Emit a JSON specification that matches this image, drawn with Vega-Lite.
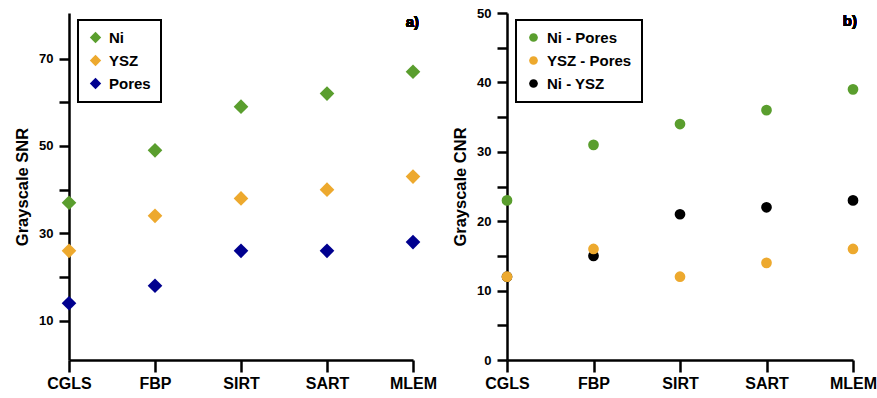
{
  "$schema": "https://vega.github.io/schema/vega-lite/v6.json",
  "background": "white",
  "padding": {"left": 14, "top": 7, "right": 5, "bottom": 5},
  "config": {
    "font": "Liberation Sans",
    "view": {"stroke": null},
    "axis": {
      "domainColor": "black", "domainWidth": 2.5,
      "labelColor": "black", "labelFont": "Liberation Sans", "labelFontWeight": "bold",
      "titleColor": "black", "titleFont": "Liberation Sans", "titleFontWeight": "bold",
      "grid": false
    },
    "legend": {
      "labelFont": "Liberation Sans", "labelFontWeight": "bold", "labelFontSize": 15, "labelColor": "black",
      "strokeColor": "black", "strokeWidth": 2, "padding": 10, "rowPadding": 7, "cornerRadius": 0,
      "symbolStrokeWidth": 0, "labelOffset": 6
    }
  },
  "resolve": {"scale": {"color": "independent"}, "legend": {"color": "independent"}},
  "spacing": 15,
  "hconcat": [
    {
      "width": 344, "height": 347,
      "resolve": {"axis": {"x": "independent", "y": "independent"}},
      "data": {"values": [
        {"method": "CGLS", "phase": "Ni", "snr": 37},
        {"method": "FBP", "phase": "Ni", "snr": 49},
        {"method": "SIRT", "phase": "Ni", "snr": 59},
        {"method": "SART", "phase": "Ni", "snr": 62},
        {"method": "MLEM", "phase": "Ni", "snr": 67},
        {"method": "CGLS", "phase": "YSZ", "snr": 26},
        {"method": "FBP", "phase": "YSZ", "snr": 34},
        {"method": "SIRT", "phase": "YSZ", "snr": 38},
        {"method": "SART", "phase": "YSZ", "snr": 40},
        {"method": "MLEM", "phase": "YSZ", "snr": 43},
        {"method": "CGLS", "phase": "Pores", "snr": 14},
        {"method": "FBP", "phase": "Pores", "snr": 18},
        {"method": "SIRT", "phase": "Pores", "snr": 26},
        {"method": "SART", "phase": "Pores", "snr": 26},
        {"method": "MLEM", "phase": "Pores", "snr": 28}
      ]},
      "layer": [
        {
          "mark": {"type": "point", "shape": "diamond", "filled": true, "size": 215, "opacity": 1},
          "encoding": {
            "x": {"field": "method", "type": "nominal", "sort": ["CGLS", "FBP", "SIRT", "SART", "MLEM"],
                  "scale": {"type": "point", "padding": 0},
                  "axis": {"title": null, "labelAngle": 0, "labelFontSize": 16, "labelPadding": 3,
                           "ticks": true, "tickColor": "black", "tickWidth": 2.5, "tickSize": 12}},
            "y": {"field": "snr", "type": "quantitative",
                  "scale": {"domain": [1, 80.45], "nice": false, "zero": false},
                  "axis": {"title": "Grayscale SNR", "titleFontSize": 16.5, "titlePadding": 8,
                           "ticks": true, "tickColor": "black", "tickWidth": 2.5, "tickSize": 10,
                           "values": [10, 20, 30, 40, 50, 60, 70], "labelFontSize": 13, "labelPadding": 6,
                           "labelExpr": "datum.value % 20 == 10 ? datum.label : ''"}},
            "color": {"field": "phase", "type": "nominal",
                      "scale": {"domain": ["Ni", "YSZ", "Pores"], "range": ["#5a9e2e", "#eda92e", "#00008f"]},
                      "legend": {"title": null, "orient": "none", "legendX": 9, "legendY": 7, "symbolType": "diamond", "symbolSize": 130}}
          }
        },
        {
          "mark": {"type": "text", "text": "a)", "font": "Liberation Sans", "fontWeight": "bold", "fontSize": 15, "align": "right", "baseline": "middle", "dx": 6},
          "encoding": {
            "x": {"datum": "MLEM", "type": "nominal", "axis": null},
            "y": {"datum": 78.4, "type": "quantitative", "axis": null}
          }
        }
      ]
    },
    {
      "width": 346, "height": 347,
      "resolve": {"axis": {"x": "independent", "y": "independent"}},
      "data": {"values": [
        {"method": "CGLS", "pair": "Ni - Pores", "cnr": 23},
        {"method": "FBP", "pair": "Ni - Pores", "cnr": 31},
        {"method": "SIRT", "pair": "Ni - Pores", "cnr": 34},
        {"method": "SART", "pair": "Ni - Pores", "cnr": 36},
        {"method": "MLEM", "pair": "Ni - Pores", "cnr": 39},
        {"method": "CGLS", "pair": "Ni - YSZ", "cnr": 12},
        {"method": "FBP", "pair": "Ni - YSZ", "cnr": 15},
        {"method": "SIRT", "pair": "Ni - YSZ", "cnr": 21},
        {"method": "SART", "pair": "Ni - YSZ", "cnr": 22},
        {"method": "MLEM", "pair": "Ni - YSZ", "cnr": 23},
        {"method": "CGLS", "pair": "YSZ - Pores", "cnr": 12},
        {"method": "FBP", "pair": "YSZ - Pores", "cnr": 16},
        {"method": "SIRT", "pair": "YSZ - Pores", "cnr": 12},
        {"method": "SART", "pair": "YSZ - Pores", "cnr": 14},
        {"method": "MLEM", "pair": "YSZ - Pores", "cnr": 16}
      ]},
      "layer": [
        {
          "mark": {"type": "point", "shape": "circle", "filled": true, "size": 115, "opacity": 1},
          "encoding": {
            "x": {"field": "method", "type": "nominal", "sort": ["CGLS", "FBP", "SIRT", "SART", "MLEM"],
                  "scale": {"type": "point", "padding": 0},
                  "axis": {"title": null, "labelAngle": 0, "labelFontSize": 16, "labelPadding": 3,
                           "ticks": true, "tickColor": "black", "tickWidth": 2.5, "tickSize": 12}},
            "y": {"field": "cnr", "type": "quantitative",
                  "scale": {"domain": [0, 50], "nice": false},
                  "axis": {"title": "Grayscale CNR", "titleFontSize": 16.5, "titlePadding": 8,
                           "ticks": true, "tickColor": "black", "tickWidth": 2.5, "tickSize": 10,
                           "values": [0, 5, 10, 15, 20, 25, 30, 35, 40, 45, 50], "labelFontSize": 13, "labelPadding": 6,
                           "labelExpr": "datum.value % 10 == 0 ? datum.label : ''"}},
            "color": {"field": "pair", "type": "nominal",
                      "scale": {"domain": ["Ni - Pores", "YSZ - Pores", "Ni - YSZ"], "range": ["#5a9e2e", "#eda92e", "#000000"]},
                      "legend": {"title": null, "orient": "none", "legendX": 9, "legendY": 7, "symbolType": "circle", "symbolSize": 75}}
          }
        },
        {
          "mark": {"type": "text", "text": "b)", "font": "Liberation Sans", "fontWeight": "bold", "fontSize": 15, "align": "right", "baseline": "middle", "dx": 4},
          "encoding": {
            "x": {"datum": "MLEM", "type": "nominal", "axis": null},
            "y": {"datum": 48.8, "type": "quantitative", "axis": null}
          }
        }
      ]
    }
  ]
}
